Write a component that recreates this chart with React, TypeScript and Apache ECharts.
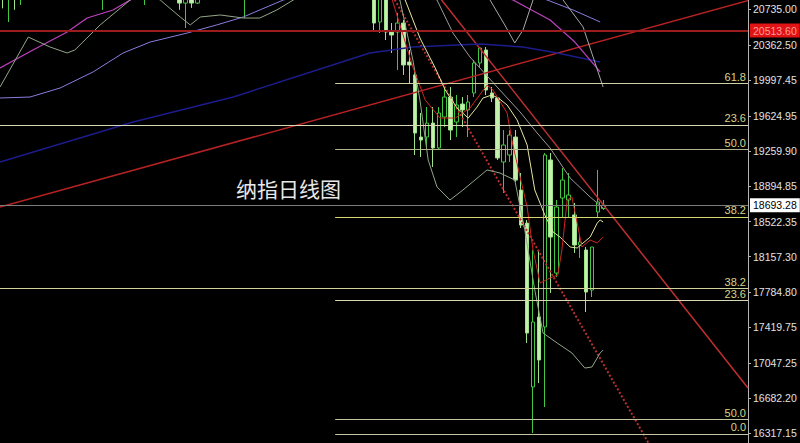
import React, { useEffect, useRef } from 'react';
import * as echarts from 'echarts';

// Candles: [open, close, low, high]
const candles: number[][] = [
  [20930, 20845, 20745, 20980], [20850, 20960, 20602, 21010], [20950, 20840, 20730, 21000], [20860, 21000, 20780, 21050],
  [21000, 21080, 20950, 21120], [21080, 21050, 20990, 21150], [21050, 21160, 21020, 21200], [21160, 21120, 21060, 21230],
  [21120, 21250, 21100, 21300], [21250, 21200, 21120, 21320], [21200, 21320, 21180, 21380], [21320, 21260, 21200, 21400],
  [21260, 21150, 21080, 21300], [21150, 21050, 20980, 21200], [21050, 21100, 20950, 21180], [21100, 20980, 20900, 21150],
  [20980, 20920, 20860, 21040], [20920, 21010, 20728, 21060], [21010, 21120, 20980, 21160], [21120, 21200, 21080, 21260],
  [21200, 21150, 21090, 21280], [21150, 21060, 21000, 21210], [21060, 20990, 20930, 21100], [20990, 20940, 20880, 21050],
  [20940, 21030, 20780, 21080], [21030, 21110, 20990, 21150], [21110, 21060, 21000, 21180], [21060, 20980, 20920, 21120],
  [20980, 20910, 20870, 21030], [20910, 20870, 20850, 20960], [20880, 20800, 20730, 20920], [20800, 20850, 20540, 20900],
  [20850, 20800, 20750, 20910], [20800, 20870, 20790, 20930], [20870, 20960, 20850, 21000], [20960, 21050, 20930, 21090],
  [21050, 21120, 21020, 21170], [21120, 21060, 21000, 21180], [21060, 21000, 20950, 21110], [21000, 20940, 20880, 21060],
  [20940, 20900, 20860, 20990], [20900, 20980, 20644, 21020], [20980, 21080, 20950, 21120], [21080, 21160, 21040, 21210],
  [21160, 21250, 21120, 21300], [21250, 21320, 21200, 21370], [21320, 21400, 21280, 21450], [21400, 21350, 21290, 21460],
  [21350, 21440, 21310, 21500], [21440, 21520, 21400, 21560], [21520, 21470, 21400, 21580], [21470, 21540, 21420, 21600],
  [21540, 21600, 21500, 21650], [21600, 21530, 21470, 21660], [21530, 21450, 21380, 21580], [21450, 21380, 21320, 21500],
  [21380, 21300, 21240, 21420], [21300, 21350, 21250, 21400], [21350, 21250, 21180, 21390], [21250, 21150, 21080, 21300],
  [21150, 21200, 21050, 21260], [21200, 21100, 21000, 21250], [21100, 21050, 20960, 21160], [21060, 20592, 20519, 21100],
  [20603, 20940, 20488, 21040], [20880, 20499, 20415, 20940], [20499, 20467, 20280, 20592], [20499, 20592, 20103, 20697],
  [20592, 20155, 20051, 20624], [20186, 20155, 19967, 20311], [20051, 19446, 19217, 20103], [19404, 19373, 19196, 19655],
  [19404, 19550, 19300, 19717], [19550, 19290, 19092, 19717], [19290, 19655, 19269, 19717], [19613, 19821, 19509, 19925],
  [19821, 19477, 19373, 19925], [19561, 19738, 19404, 19842], [19748, 19686, 19509, 19821], [19686, 19769, 19404, 19842],
  [19863, 20176, 19821, 20207], [20176, 20332, 20134, 20342], [20311, 19894, 19842, 20342], [19863, 19811, 19769, 19925],
  [19811, 19186, 19165, 19821], [19144, 19321, 18821, 19477], [19217, 19425, 19144, 19477], [19404, 18956, 18936, 19477],
  [18852, 18487, 18456, 19029], [18508, 17362, 17258, 18540], [16800, 17477, 16320, 18227], [17529, 17081, 16841, 18227],
  [17425, 19217, 16591, 19238], [19165, 18362, 17779, 19238], [17987, 18675, 17946, 18748], [18769, 18956, 18571, 19081],
  [18748, 18800, 18571, 19029], [18592, 18279, 18196, 18717], [18279, 18310, 18144, 18383], [18227, 17789, 17581, 18258],
  [17810, 18258, 17737, 18258], [18623, 18727, 18571, 19061], [18660, 18693.28, 18644, 18748],
];

const SLOTS = 127;
const categories: string[] = Array.from({ length: SLOTS }, (_, i) => String(i));

const tickValues = [20735.0, 20362.5, 19997.45, 19624.95, 19259.9, 18894.85, 18522.35, 18157.3, 17784.8, 17419.75, 17047.25, 16682.2, 16317.15];

// Indicator lines: [slot, price]
const maMagenta = [[-0.5, 20123], [5.1, 20311], [10.9, 20499], [14.3, 20644], [18.7, 20728], [21.6, 20832], [35, 21150], [55, 21250], [75, 21050], [86.6, 20832], [92.9, 20624], [97.1, 20394], [101.4, 20082]];
const maLavender = [[-0.5, 19811], [4.6, 19821], [9.7, 19915], [15.3, 20082], [20.4, 20280], [25, 20394], [31.3, 20488], [36.3, 20572], [40.8, 20655], [47.6, 20832], [60, 21000], [80, 21050], [92.4, 20832], [96.8, 20728], [101.4, 20603]];
const maNavy = [[-0.5, 19144], [22.1, 19561], [39.1, 19821], [62.3, 20280], [69.6, 20342], [81, 20374], [88.3, 20342], [94.1, 20280], [101.4, 20186]];
const maRed = [[60, 21100], [66.1, 20832], [69.6, 20134], [71.7, 19790], [74.2, 19602], [76.8, 19602], [79.3, 19707], [82.2, 19946], [83.2, 19894], [85.6, 19655], [86.4, 19373], [87.8, 18988], [89, 18675], [90, 18227], [91.2, 17883], [92.9, 17935], [94.2, 17967], [94.9, 18227], [95.8, 18748], [96.6, 18779], [97.5, 18508], [98.3, 18258], [99.7, 18331], [100.9, 18300], [101.9, 18362]];
const maYellow = [[62, 21050], [68.3, 20832], [70.8, 20436], [73.4, 20123], [75.1, 19894], [77.1, 19707], [79, 19602], [80.5, 19717], [81.5, 19811], [83, 19842], [84.1, 19811], [85.6, 19738], [87.3, 19582], [89, 19321], [90.3, 18852], [92, 18592], [93.4, 18415], [94.6, 18362], [96.3, 18258], [97.5, 18248], [98.5, 18300], [99.7, 18362], [100.9, 18508], [101.4, 18540], [101.9, 18519]];
const bandMid = [[66, 21100], [73.7, 20832], [76.4, 20488], [79.3, 20238], [83.9, 19925], [87.8, 19665], [90.7, 19446], [92.9, 19290], [96.3, 18977], [99.7, 18779], [101.9, 18665]];
const bandUpper = [[80, 21000], [82.7, 20832], [85.2, 20572], [86.9, 20384], [88.3, 20519], [90, 20832], [93, 21200], [95.1, 20832], [98.5, 20551], [101.9, 19925]];
const bandLower = [[-0.5, 19925], [4.3, 20446], [8, 20342], [10.9, 20280], [12.2, 20311], [16.5, 20572], [21.6, 20832], [24, 20900], [26.7, 20832], [30.1, 20655], [31.8, 20572], [33.5, 20655], [36.9, 20676], [40.8, 20644], [43.6, 20644], [46.5, 20728], [49.3, 20832], [58, 21100], [67.4, 20832], [69.6, 20207], [70.8, 19790], [72.2, 19165], [73.7, 18884], [75.9, 18748], [78.1, 18852], [82.2, 19061], [84.4, 19029], [86.9, 18956], [88.6, 18435], [90.3, 17810], [91.7, 17362], [94.1, 17258], [96.6, 17154], [98.8, 16997], [100, 17008], [101.4, 17154], [101.9, 17185]];

// Trend lines: [slot, price]
const trendUp = [[-0.5, 18675], [126.5, 20826]];
const trendDown = [[71.8, 21040], [126.5, 16789]];
const trendDotted = [[64.5, 21051], [111.55, 16008]];

// Levels
const resistanceLevel = 20513.6;
const lastPrice = 18693.28;
const fibStart = 56.4;
const fibLevels = [
  { label: '61.8', value: 19967, full: false, color: '#cfcfa6' },
  { label: '23.6', value: 19530, full: true, color: '#d8d8b4' },
  { label: '50.0', value: 19279, full: false, color: '#b4b48e' },
  { label: '38.2', value: 18571, full: false, color: '#d6d66e' },
  { label: '38.2', value: 17831, full: true, color: '#d2d29a' },
  { label: '23.6', value: 17706, full: false, color: '#d8d8b4' },
  { label: '50.0', value: 16466, full: false, color: '#c4c4a4' },
  { label: '0.0', value: 16310, full: false, color: '#c4c4a4' },
];

const title = '纳指日线图';

export default function App() {
  const ref = useRef<HTMLDivElement>(null);
  useEffect(() => {
    if (!ref.current) return;
    const chart = echarts.init(ref.current, undefined, { renderer: 'svg' });

    const lineSeries = (name: string, data: number[][], color: string, width = 1, type: any = 'solid', z = 3) => ({
      name,
      type: 'line',
      xAxisIndex: 1,
      yAxisIndex: 0,
      data,
      showSymbol: false,
      symbol: 'none',
      silent: true,
      clip: true,
      z,
      lineStyle: { color, width, type },
    });

    const fibMarks: any[] = fibLevels.map((f) => {
      const lbl = {
        show: true,
        formatter: f.label,
        position: 'insideEndTop',
        color: '#d8d58a',
        fontSize: 11,
        fontFamily: 'Liberation Sans',
        distance: [2, 1],
      };
      if (f.full) {
        return { yAxis: f.value, lineStyle: { color: f.color, width: 1, type: 'solid' }, label: lbl };
      }
      return [
        { coord: [fibStart, f.value], lineStyle: { color: f.color, width: 1, type: 'solid' }, label: lbl },
        { coord: [126.5, f.value] },
      ];
    });

    const option: any = {
      animation: false,
      backgroundColor: '#000000',
      grid: { left: 0, right: 52, top: 0, bottom: 0, containLabel: false },
      xAxis: [
        { type: 'category', data: categories, show: false, boundaryGap: true },
        { type: 'value', min: -0.5, max: SLOTS - 0.5, show: false },
      ],
      yAxis: {
        type: 'value',
        position: 'right',
        min: 16216,
        max: 20832,
        splitLine: { show: false },
        axisLine: { show: true, onZero: false, lineStyle: { color: '#b4b4b4', width: 1 } },
        axisTick: { show: true, length: 3, customValues: tickValues, lineStyle: { color: '#b4b4b4' } },
        axisLabel: {
          customValues: tickValues,
          formatter: (v: number) => v.toFixed(2),
          color: '#e2e2e2',
          fontSize: 10.5,
          fontFamily: 'Liberation Sans',
          margin: 5,
        },
      },
      graphic: [
        {
          type: 'text',
          left: 236,
          top: 177,
          silent: true,
          style: { text: title, fill: '#e8e8e8', font: '21px "Noto Sans CJK SC"' },
        },
      ],
      series: [
        {
          type: 'candlestick',
          xAxisIndex: 0,
          yAxisIndex: 0,
          data: candles,
          barWidth: 4,
          z: 2,
          itemStyle: {
            color: '#000000',
            color0: '#c4f0ae',
            borderColor: '#40c840',
            borderColor0: '#9ee28c',
            borderWidth: 1,
          },
        },
        {
          ...lineSeries('trendUp', trendUp, '#b52222', 1.5),
          markLine: {
            silent: true,
            symbol: 'none',
            animation: false,
            data: [
              ...fibMarks,
              {
                yAxis: resistanceLevel,
                lineStyle: { color: '#9a1c1c', width: 2, type: 'solid' },
                label: {
                  show: true,
                  position: 'end',
                  distance: 2,
                  formatter: resistanceLevel.toFixed(2),
                  backgroundColor: '#e01414',
                  color: '#ff9a9a',
                  fontSize: 10.5,
                  fontFamily: 'Liberation Sans',
                  padding: [2, 3, 1, 3],
                },
              },
              {
                yAxis: lastPrice,
                lineStyle: { color: '#7c7c7c', width: 1, type: 'solid' },
                label: {
                  show: true,
                  position: 'end',
                  distance: 2,
                  formatter: lastPrice.toFixed(2),
                  backgroundColor: '#ffffff',
                  color: '#000000',
                  fontSize: 10.5,
                  fontFamily: 'Liberation Sans',
                  padding: [2, 3, 1, 3],
                },
              },
            ],
          },
        },
        lineSeries('trendDown', trendDown, '#c03030', 1.5),
        lineSeries('trendDotted', trendDotted, '#b83030', 2, [2, 2]),
        lineSeries('maNavy', maNavy, '#1c1c8c', 1.5),
        lineSeries('maLavender', maLavender, '#8a7ee0', 1),
        lineSeries('maMagenta', maMagenta, '#c040c0', 1.2),
        lineSeries('bandLower', bandLower, '#93a68a', 1),
        lineSeries('bandMid', bandMid, '#9a9a9a', 1),
        lineSeries('bandUpper', bandUpper, '#a8a8a8', 1),
        lineSeries('maYellow', maYellow, '#e6e6a0', 1),
        lineSeries('maRed', maRed, '#d02424', 1),
      ],
    };

    chart.setOption(option);
    return () => chart.dispose();
  }, []);

  return (
    <div
      ref={ref}
      style={{ position: 'fixed', left: 0, top: 0, width: 800, height: 443, background: '#000' }}
    />
  );
}
